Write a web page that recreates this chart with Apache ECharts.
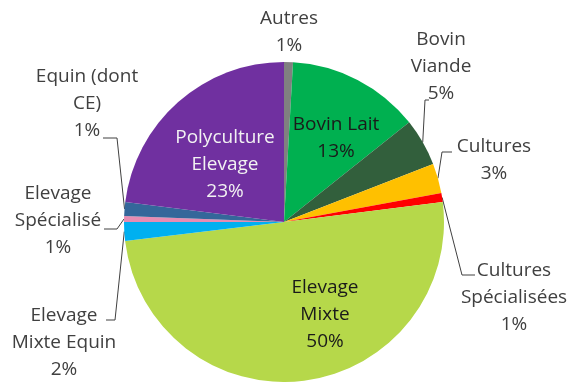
<!DOCTYPE html>
<html>
<head>
<meta charset="utf-8">
<script src="https://cdn.jsdelivr.net/npm/echarts@6/dist/echarts.min.js"></script>
<style>
  html, body { margin: 0; padding: 0; background: #fff; }
  #chart { width: 571px; height: 382px; }
</style>
</head>
<body>
<div id="chart"></div>
<script>
// Répartition des exploitations par orientation (en %)
const categories = ['Autres', 'Bovin Lait', 'Bovin Viande', 'Cultures', 'Cultures Spécialisées',
  'Elevage Mixte', 'Elevage Mixte Equin', 'Elevage Spécialisé', 'Equin (dont CE)', 'Polyculture Elevage'];
const shares = [0.9, 13.4, 4.8, 3.0, 0.9, 50.1, 1.9, 0.6, 1.4, 23.0];
// Libellés affichés (avec retours à la ligne)
const labelNames = ['Autres', 'Bovin Lait', 'Bovin\nViande', 'Cultures', 'Cultures\nSpécialisées',
  'Elevage\nMixte', 'Elevage\nMixte Equin', 'Elevage\nSpécialisé', 'Equin (dont\nCE)', 'Polyculture\nElevage'];

// Style des secteurs
const colors = ['#808080', '#00B050', '#325F3C', '#FFC000', '#FF0000',
  '#B6D84A', '#00B0F0', '#E78CB2', '#34679A', '#7030A0'];
const inside = [false, true, false, false, false, true, false, false, false, true];
const textColors = ['#404040', '#1a1a1a', '#404040', '#404040', '#404040',
  '#1a1a1a', '#404040', '#404040', '#404040', '#f2f2f2'];

// Position des étiquettes (centre du bloc de texte) et coudes des traits de rappel
const labelPlacement = [
  { x: 289, y: 32 },
  { x: 336, y: 138 },
  { x: 441, y: 67, line: [[425, 100], [429, 100]] },
  { x: 494, y: 160, line: [[442, 152], [452, 152]] },
  { x: 514, y: 298, line: [[462, 275], [475, 275]] },
  { x: 325, y: 315 },
  { x: 64, y: 343, line: [[115, 320], [106, 320]] },
  { x: 58, y: 221, line: [[117, 229], [104, 229]] },
  { x: 87, y: 104, line: [[117, 138], [103, 138]] },
  { x: 225, y: 165 }
];

const data = categories.map((name, i) => ({
  name: name,
  value: shares[i],
  itemStyle: { color: colors[i] },
  label: {
    position: inside[i] ? 'inside' : 'outside',
    color: textColors[i],
    formatter: () => labelNames[i] + '\n' + Math.round(shares[i]) + '%'
  },
  labelLine: { show: !!labelPlacement[i].line }
}));

const chart = echarts.init(document.getElementById('chart'), null, { renderer: 'canvas' });
chart.setOption({
  animation: false,
  series: [{
    type: 'pie',
    center: [284, 222],
    radius: 160,
    startAngle: 90,
    clockwise: true,
    avoidLabelOverlap: false,
    data: data,
    itemStyle: { borderWidth: 0 },
    emphasis: { disabled: true },
    label: {
      fontFamily: 'Open Sans',
      fontSize: 19,
      lineHeight: 27,
      align: 'center'
    },
    labelLine: {
      show: true,
      length: 10,
      length2: 10,
      lineStyle: { color: '#404040', width: 1 }
    },
    labelLayout: function (params) {
      const p = labelPlacement[params.dataIndex];
      const out = { x: p.x, y: p.y, align: 'center', verticalAlign: 'middle' };
      if (p.line && params.labelLinePoints) {
        out.labelLinePoints = [params.labelLinePoints[0], p.line[0], p.line[1]];
      }
      return out;
    }
  }]
});
</script>
</body>
</html>
